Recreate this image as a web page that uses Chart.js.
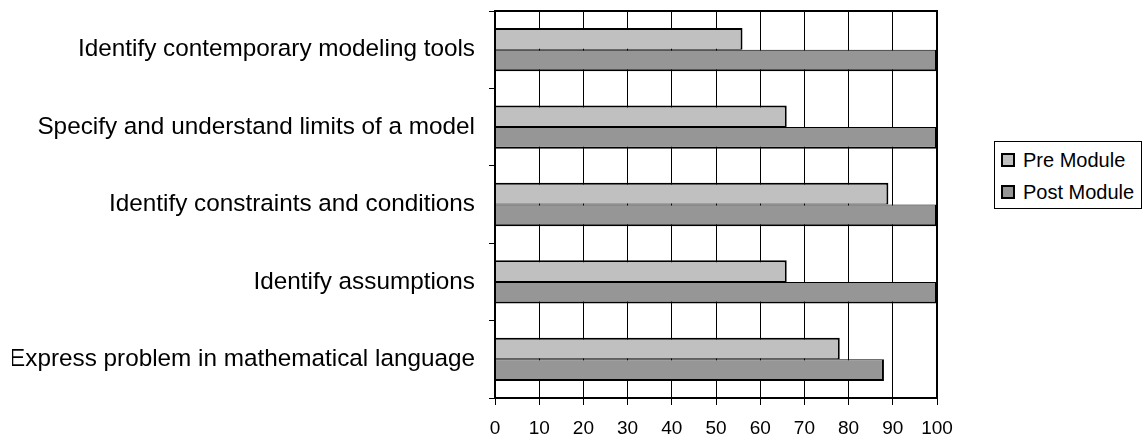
<!DOCTYPE html>
<html>
<head>
<meta charset="utf-8">
<script src="https://cdn.jsdelivr.net/npm/chart.js@4/dist/chart.umd.min.js"></script>
<style>
  html, body { margin: 0; padding: 0; background: #fff; }
  #wrap { position: relative; width: 1142px; height: 440px; }
  #legend {
    position: absolute; left: 994px; top: 141px; width: 146px; height: 66px;
    border: 1px solid #000; background: #fff;
    font-family: "Liberation Sans", Arial, sans-serif; font-size: 20px; color: #000;
  }
  .item { position: absolute; left: 6px; height: 24px; line-height: 24px; }
  .sw { position: absolute; left: 0; top: 5px; width: 10px; height: 10px; border: 2px solid #000; }
  .txt { position: absolute; left: 22px; top: 0; white-space: nowrap; }
</style>
</head>
<body>
<div id="wrap">
  <canvas id="id_chart" width="1142" height="440"></canvas>
  <div id="legend"></div>
</div>
<script>
(function() {
    "use strict";
    var categories = [
        'Identify contemporary modeling tools',
        'Specify and understand limits of a model',
        'Identify constraints and conditions',
        'Identify assumptions',
        'Express problem in mathematical language'
    ];
    var pre_values = [56, 66, 89, 66, 78];
    var post_values = [100, 100, 100, 100, 88];
    var series_names = ['Pre Module', 'Post Module'];
    var series_colors = ['#C0C0C0', '#969696'];

    var font_family = '"Liberation Sans", Arial, sans-serif';

    // outline round the plot area
    var frame = {
        id: 'frame',
        afterDraw: function(chart) {
            var a = chart.chartArea, ctx = chart.ctx;
            ctx.save();
            ctx.strokeStyle = '#000';
            ctx.lineWidth = 2;
            ctx.strokeRect(a.left, a.top, a.right - a.left, a.bottom - a.top);
            ctx.restore();
        }
    };

    var ctx = document.getElementById('id_chart').getContext('2d');
    var chart = new Chart(ctx, {
        type: 'bar',
        data: {
            labels: categories,
            datasets: [{
                label: series_names[0],
                data: pre_values,
                backgroundColor: series_colors[0],
                borderColor: '#000',
                borderWidth: {top: 2, right: 2, bottom: 1, left: 0},
                borderSkipped: false
            }, {
                label: series_names[1],
                data: post_values,
                backgroundColor: series_colors[1],
                borderColor: '#000',
                borderWidth: {top: 1, right: 2, bottom: 2, left: 0},
                borderSkipped: false
            }]
        },
        options: {
            indexAxis: 'y',
            responsive: false,
            animation: false,
            categoryPercentage: 0.56,
            barPercentage: 1.0,
            layout: { padding: { left: 12, top: 11, right: 205, bottom: 0 } },
            plugins: {
                legend: { display: false },
                tooltip: { enabled: false }
            },
            scales: {
                x: {
                    min: 0,
                    max: 100,
                    ticks: {
                        stepSize: 10,
                        color: '#000',
                        padding: 12,
                        maxRotation: 0,
                        font: { family: font_family, size: 19 }
                    },
                    grid: { color: '#000', lineWidth: 1, tickLength: 7 },
                    border: { display: true, color: '#000', width: 2 },
                    afterFit: function(scale) { scale.height = 42; }
                },
                y: {
                    ticks: {
                        color: '#000',
                        padding: 14,
                        font: { family: font_family, size: 24.3 }
                    },
                    grid: { drawOnChartArea: false, drawTicks: true, tickLength: 6, color: '#000' },
                    border: { display: true, color: '#000', width: 2 },
                    afterFit: function(scale) {
                        scale.width = 483;
                        scale.paddingTop = 0;
                        scale.paddingBottom = 0;
                    }
                }
            }
        },
        plugins: [frame]
    });

    var legend = document.getElementById('legend');
    chart.data.datasets.forEach(function(ds, i) {
        var item = document.createElement('div');
        item.className = 'item';
        item.style.top = (6 + i * 32) + 'px';
        item.innerHTML = '<span class="sw" style="background:' + ds.backgroundColor + '"></span>' +
            '<span class="txt">' + ds.label + '</span>';
        legend.appendChild(item);
    });
})();
</script>
</body>
</html>
